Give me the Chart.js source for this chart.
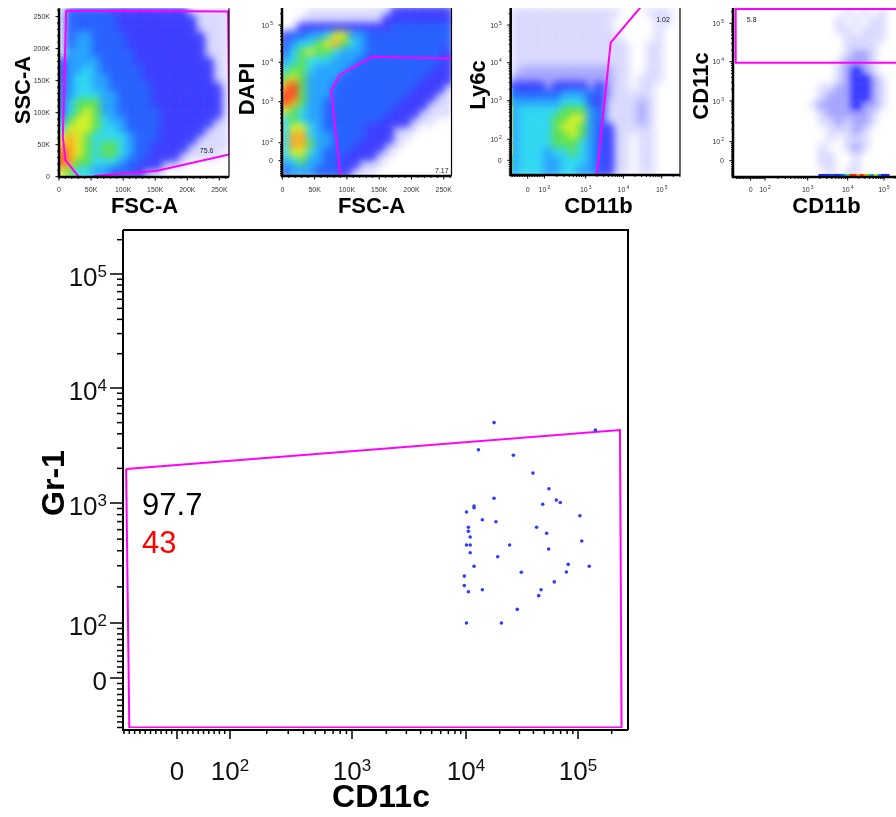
<!DOCTYPE html>
<html>
<head>
<meta charset="utf-8">
<title>CD11c / Gr-1 gating</title>
<script src="https://cdn.jsdelivr.net/npm/chart.js@4.4.1/dist/chart.umd.min.js"></script>
<style>
  html, body { margin: 0; padding: 0; background: #fff; width: 896px; height: 817px; overflow: hidden; }
  canvas { position: absolute; left: 0; top: 0; }
</style>
</head>
<body>
<canvas id="fsc-ssc" width="920" height="817"></canvas>
<canvas id="fsc-dapi" width="920" height="817"></canvas>
<canvas id="cd11b-ly6c" width="920" height="817"></canvas>
<canvas id="cd11b-cd11c" width="920" height="817"></canvas>
<canvas id="cd11c-gr1" width="920" height="817"></canvas>
<script>
// Final plot: CD11c vs Gr-1 events
const cd11cValues = [17800, 143000, 12900, 26500, 39600, 55000, 17800, 64000, 69500, 48400,
  11800, 11800, 10100, 104000, 14000, 18500, 10500, 10500, 42700, 52500,
  10900, 10100, 10900, 24500, 54700, 108000, 10900, 19200, 81800, 126000,
  11800, 78700, 31200, 9660, 9660, 61400, 10500, 14000, 46800, 44600,
  28700, 10100, 20700];
const gr1Values = [5000, 4300, 2900, 2600, 1820, 1330, 1100, 1060, 1010, 975,
  944, 914, 841, 784, 726, 698, 628, 581, 628, 560,
  521, 447, 447, 447, 414, 482, 385, 357, 308, 297,
  297, 266, 265, 246, 205, 220, 182, 189, 189, 169,
  130, 100, 100];
const gr1Gate = [[-96, 1980], [237000, 4310], [245000, -90], [-90, -90], [-96, 1980]];
const gr1GateStats = ['97.7', '43'];

// Parent gates (x, y)
const fscSscGate = [[11200, 259000], [263500, 258000], [266000, 35000], [153000, 9400], [55800, 1000],
  [44000, -12000], [30800, 0], [10000, 26000], [6000, 62000], [11200, 259000]];
const fscDapiGate = [[90100, -90], [75700, 1900], [89000, 4800], [139000, 14100], [270000, 12500]];
const ly6cGate = [[1950, -80], [4600, 34000], [40500, 460000]];
const cd11cGate = [[600000, 236000], [-105, 236000], [-105, 9400], [600000, 9400]];
const gateStats = ['75.6', '7.17', '1.02', '5.8'];

// Binned event density, rows top to bottom, 0 = empty .. 9 = densest
const fscSscDensity = [
  '13333322222222211111',
  '13333332222222221111',
  '13333332222222221111',
  '13443333222222222111',
  '13443333222222222111',
  '14443333322222222111',
  '24444333322222222211',
  '24454333332222222211',
  '24554433332222222211',
  '34554433333222222221',
  '34555443333222222221',
  '35666443333222222221',
  '35676443333322222221',
  '46776544333322222211',
  '57776554333322222111',
  '78765555433322221111',
  '88765665433222211111',
  '98765665433222111110',
  '98665554332211100000',
  '76554433321100000000'
];
const fscDapiDensity = [
  '00011111111112222222',
  '00111111111122222222',
  '01222222222223333333',
  '23344577443333333333',
  '34556786543333333333',
  '35676654443333333332',
  '45655544433333333332',
  '56654444333333333322',
  '67644443333333333222',
  '89644433333333332221',
  '99644433333333322211',
  '98644333333333222111',
  '76544333333332221111',
  '56544333333322211100',
  '57754333332221110000',
  '58854433332221100000',
  '58864433322211000000',
  '57754333222110000000',
  '45644332211100000000',
  '34443332111000000000'
];
const cd11bLy6cDensity = [
  '11111111111110001110',
  '11111111111100000110',
  '11111111111100000100',
  '11111111111110000100',
  '11111111111111001100',
  '11111111111111001100',
  '11111111111111001100',
  '1bbbbbbbbbbb11001100',
  'bbbbbbbbbbbb11011100',
  '2222b2222b2b11011000',
  '33333344433b11111000',
  '444444555321111b1000',
  '455555666431111b1000',
  '455556677431111b1000',
  '45555677643211111000',
  '45555667643211011000',
  '45555666543211011000',
  '45554556543211011000',
  '45554455543211011000',
  '45554455443211011000'
];
const cd11bCd11cDensity = [
  '00000000000001010100',
  '00000000000010101100',
  '00000000000011011100',
  '00000000000001111100',
  '00000000000001111000',
  '00000000000001bb1000',
  '0000000000001bbb1000',
  '0000000000001b2b1000',
  '0000000000001b22b100',
  '000000000011bb22b100',
  '00000000001bbb22b100',
  '0000000001bbbb2bb100',
  '00000000001bbbbb1000',
  '000000000011b1bb1000',
  '00000000000111b10000',
  '00000000000101110000',
  '00000000001001b10000',
  '00000000001100100000',
  '00000000001100100000',
  '00000000000101100000'
];
// Events piled on the axis minimum
const ly6cAxisPile = [[1500, '5'], [900, '6'], [500, '7'], [250, '7'], [120, '7'], [50, '7'], [0, '6'], [-40, '6'], [-70, '5']];
const cd11cAxisPile = [[2200, '2'], [3000, '2'], [4000, '3'], [5500, '2'], [7000, '3'], [9000, '4'], [11000, '6'],
  [13700, '9'], [17000, '9'], [21000, '8'], [26000, '9'], [33000, '8'], [42000, '6'], [52000, '4'],
  [63000, '7'], [80000, '4'], [100000, '2'], [118000, '2']];

const densityColors = {
  '1': 'rgba(70, 70, 255, 0.13)',
  'b': 'rgba(50, 50, 255, 0.32)',
  '2': '#2323ff',
  '3': '#0a4bff',
  '4': '#0a96ff',
  '5': '#14d2f0',
  '6': '#46dc3c',
  '7': '#d2f00a',
  '8': '#ffa000',
  '9': '#ff2800'
};
const GATE = '#ff00ff';
const FONT = '"Liberation Sans", Arial, sans-serif';
const PAGE_W = 920, PAGE_H = 817;

// Biexponential display: linear through zero up to 10^2, log above.
// pos = display units of 0, 10^2, 10^3, 10^4, 10^5
function biex(pos) {
  const slope = (pos[1] - pos[0]) / 100;
  return v => {
    if (v <= 100) return pos[0] + v * slope;
    const l = Math.log10(v);
    const k = Math.min(Math.floor(l), 4) - 1;
    return pos[k] + (l - (k + 1)) * (pos[k + 1] - pos[k]);
  };
}
const ident = v => v;

function biexTicks(map, lo, hi) {
  const t = [{u: map(0), major: true, label: '0'}];
  for (let k = 1; k <= 9; k++) t.push({u: map(k * 10)});
  for (let k = 1; k <= 10; k++) t.push({u: map(-k * 10)});
  for (let d = 2; d <= 5; d++) {
    t.push({u: map(10 ** d), major: true, exp: d});
    for (let k = 2; k <= 9; k++) t.push({u: map(k * 10 ** d)});
  }
  return t.filter(v => v.u >= lo - 0.01 && v.u <= hi + 0.01);
}
function linTicks(lo, hi) {
  const t = [];
  for (let v = 0; v <= hi; v += 10000) {
    t.push(v % 50000 === 0 ? {u: v, major: true, label: v ? v / 1000 + 'K' : '0'} : {u: v});
  }
  return t.filter(v => v.u >= lo);
}

function labelWidth(ctx, t, f) {
  ctx.font = f.base;
  let w = ctx.measureText(t.exp ? '10' : t.label).width;
  if (t.exp) { ctx.font = f.sup; w += f.gap + ctx.measureText(String(t.exp)).width; }
  return w;
}
function drawLabel(ctx, t, left, baseline, f) {
  ctx.textAlign = 'left';
  ctx.textBaseline = 'alphabetic';
  ctx.font = f.base;
  const txt = t.exp ? '10' : t.label;
  ctx.fillText(txt, left, baseline);
  if (t.exp) {
    const w = ctx.measureText(txt).width;
    ctx.font = f.sup;
    ctx.fillText(String(t.exp), left + w + f.gap, baseline - f.rise);
  }
}

const axisStyle = new Map();

// Soften the binned density so it reads as a continuous pseudocolour map
const densityBlur = {
  id: 'densityBlur',
  beforeDatasetDraw(chart, args) {
    const b = chart.data.datasets[args.index].blur;
    if (b) { chart.ctx.save(); chart.ctx.filter = `blur(${b}px)`; }
  },
  afterDatasetDraw(chart, args) {
    if (chart.data.datasets[args.index].blur) chart.ctx.restore();
  }
};

// Axis lines, tick marks, labels, titles and gate statistics
const flowAxes = {
  id: 'flowAxes',
  afterDraw(chart) {
    const s = axisStyle.get(chart.canvas.id);
    if (!s) return;
    const {ctx, chartArea: a} = chart;
    const sx = chart.scales.x, sy = chart.scales.y;
    const axisY = a.bottom + s.xAxisDrop;
    ctx.save();
    ctx.strokeStyle = '#000';
    ctx.fillStyle = s.labelColor;
    ctx.lineWidth = s.tickWidth;
    s.xTicks.forEach(t => {
      const px = sx.getPixelForValue(t.u);
      ctx.beginPath();
      ctx.moveTo(px, axisY);
      ctx.lineTo(px, axisY + (t.major ? s.majorX : s.minorX));
      ctx.stroke();
      if (t.major) {
        const w = labelWidth(ctx, t, s.font);
        drawLabel(ctx, t, px - w / 2, a.bottom + s.xLabelBase, s.font);
      }
    });
    s.yTicks.forEach(t => {
      const py = sy.getPixelForValue(t.u);
      ctx.beginPath();
      ctx.moveTo(a.left, py);
      ctx.lineTo(a.left - (t.major ? s.majorY : s.minorY), py);
      ctx.stroke();
      if (t.major) {
        const w = labelWidth(ctx, t, s.font);
        drawLabel(ctx, t, a.left - s.yLabelGap - w, py + s.yLabelBase, s.font);
      }
    });

    ctx.lineWidth = s.axisWidth;
    ctx.beginPath();
    ctx.moveTo(a.left, a.top);
    ctx.lineTo(a.left, axisY);
    ctx.lineTo(a.right, axisY);
    ctx.stroke();
    if (s.frameWidth) {
      ctx.lineWidth = s.frameWidth;
      ctx.beginPath();
      if (s.frameTop) { ctx.moveTo(a.left, a.top); ctx.lineTo(a.right, a.top); }
      else ctx.moveTo(a.right, a.top);
      ctx.lineTo(a.right, axisY);
      ctx.stroke();
    }

    ctx.fillStyle = '#000';
    ctx.font = `bold ${s.titleSize}px ${FONT}`;
    ctx.textAlign = 'center';
    ctx.textBaseline = 'middle';
    ctx.fillText(s.xTitle, s.xTitleAt[0], s.xTitleAt[1]);
    ctx.save();
    ctx.translate(s.yTitleAt[0], s.yTitleAt[1]);
    ctx.rotate(-Math.PI / 2);
    ctx.fillText(s.yTitle, 0, 0);
    ctx.restore();

    s.stats.forEach(st => {
      ctx.font = st.font;
      ctx.fillStyle = st.color;
      ctx.textAlign = st.align;
      ctx.textBaseline = 'middle';
      ctx.fillText(st.text, sx.getPixelForValue(st.x) + (st.dx || 0), sy.getPixelForValue(st.y) + (st.dy || 0));
    });
    ctx.restore();
  }
};

function densityCells(rows, x, y) {
  const nr = rows.length, nc = rows[0].length;
  const dx = (x.max - x.min) / nc, dy = (y.max - y.min) / nr;
  const cells = [];
  rows.forEach((row, r) => {
    for (let c = 0; c < nc; c++) {
      if (row[c] === '0') continue;
      cells.push({x: x.min + (c + 0.5) * dx, y: y.max - (r + 0.5) * dy, level: row[c]});
    }
  });
  return cells;
}

function flowChart(id, area, x, y, datasets) {
  return new Chart(document.getElementById(id), {
    type: 'scatter',
    data: {datasets},
    options: {
      responsive: false,
      animation: false,
      events: [],
      layout: {padding: {left: area[0], top: area[1], right: PAGE_W - area[2], bottom: PAGE_H - area[3]}},
      scales: {
        x: {type: 'linear', display: false, min: x.min, max: x.max},
        y: {type: 'linear', display: false, min: y.min, max: y.max}
      },
      plugins: {legend: {display: false}, tooltip: {enabled: false}}
    },
    plugins: [densityBlur, flowAxes]
  });
}

const smallFont = {base: `7px ${FONT}`, sup: `5px ${FONT}`, rise: 3, gap: 1};

// Top row: parent populations
const panels = [
  {
    id: 'fsc-ssc', area: [59, 8.3, 229, 177],
    x: {map: ident, min: 0, max: 265000, lin: true}, y: {map: ident, min: -500, max: 263000, lin: true},
    density: fscSscDensity, gate: fscSscGate, stat: {text: gateStats[0], x: 230000, y: 40000},
    xTitle: 'FSC-A', yTitle: 'SSC-A', xTitleAt: [144.5, 207], yTitleAt: [23.5, 90], xLabelBase: 14.5, blur: 4
  },
  {
    id: 'fsc-dapi', area: [282, 8, 451.5, 176],
    x: {map: ident, min: -500, max: 262000, lin: true}, y: {map: biex([0, 18, 59, 98.4, 135.7]), min: -15.3, max: 152.7},
    density: fscDapiDensity, gate: fscDapiGate, stat: {text: gateStats[1], x: 247000, y: -57},
    xTitle: 'FSC-A', yTitle: 'DAPI', xTitleAt: [371.5, 207], yTitleAt: [248, 89], xLabelBase: 15.5, blur: 4
  },
  {
    id: 'cd11b-ly6c', area: [510.7, 8, 680, 175],
    x: {map: biex([0, 16.7, 58, 95.7, 134]), min: -17, max: 152.3}, y: {map: biex([0, 21, 59.6, 97.6, 135.3]), min: -14.7, max: 152.3},
    density: cd11bLy6cDensity, gate: ly6cGate, stat: {text: gateStats[2], x: 108000, y: 135000},
    pile: {data: ly6cAxisPile, vertical: true, at: -96},
    xTitle: 'CD11b', yTitle: 'Ly6c', xTitleAt: [598.5, 207], yTitleAt: [478.5, 85], xLabelBase: 16.5, blur: 4
  },
  {
    id: 'cd11b-cd11c', area: [733, 8, 903, 177],
    x: {map: biex([0, 14.3, 57, 97, 133.3]), min: -17.7, max: 152.3}, y: {map: biex([0, 19, 59.7, 99, 137.4]), min: -16.3, max: 152.7},
    density: cd11bCd11cDensity, gate: cd11cGate, stat: {text: gateStats[3], x: 7, y: 122000},
    pile: {data: cd11cAxisPile, vertical: false, at: -75},
    xTitle: 'CD11b', yTitle: 'CD11c', xTitleAt: [826.5, 207], yTitleAt: [702, 86], xLabelBase: 14.5, blur: 3.5, noFrame: true
  }
];

panels.forEach(p => {
  const cells = densityCells(p.density, p.x, p.y);
  const cellPx = Math.max((p.area[2] - p.area[0]) / p.density[0].length, (p.area[3] - p.area[1]) / p.density.length);
  const datasets = [
    {
      type: 'line',
      data: p.gate.map(g => ({x: p.x.map(g[0]), y: p.y.map(g[1])})),
      borderColor: GATE, borderWidth: 2, pointRadius: 0, fill: false, tension: 0, order: 0
    },
    {
      data: cells,
      pointStyle: 'rect',
      pointRadius: cellPx * 0.9,
      pointHoverRadius: cellPx * 0.9,
      pointBorderWidth: 0,
      pointBackgroundColor: cells.map(c => densityColors[c.level]),
      blur: p.blur,
      order: 2
    }
  ];
  if (p.pile) {
    const pts = p.pile.data.map(d => p.pile.vertical
      ? {x: p.x.map(p.pile.at), y: p.y.map(d[0])}
      : {x: p.x.map(d[0]), y: p.y.map(p.pile.at)});
    datasets.push({
      data: pts,
      pointStyle: 'line',
      pointRotation: p.pile.vertical ? 90 : 0,
      pointRadius: p.pile.vertical ? 6 : 3,
      pointBorderWidth: 2,
      pointBorderColor: p.pile.data.map(d => densityColors[d[1]]),
      order: 1
    });
  }
  axisStyle.set(p.id, {
    xTicks: p.x.lin ? linTicks(p.x.min, p.x.max) : biexTicks(p.x.map, p.x.min, p.x.max),
    yTicks: p.y.lin ? linTicks(p.y.min, p.y.max) : biexTicks(p.y.map, p.y.min, p.y.max),
    font: smallFont, labelColor: '#333',
    majorX: 3.5, minorX: 2, majorY: 3.5, minorY: 2, tickWidth: 1, axisWidth: 2.5, xAxisDrop: 0,
    xLabelBase: p.xLabelBase, yLabelBase: 2.5, yLabelGap: 9,
    frameWidth: p.noFrame ? 0 : 1.2, frameTop: false,
    titleSize: 22, xTitle: p.xTitle, yTitle: p.yTitle, xTitleAt: p.xTitleAt, yTitleAt: p.yTitleAt,
    stats: [{text: p.stat.text, x: p.x.map(p.stat.x), y: p.y.map(p.stat.y), font: `7px ${FONT}`, color: '#222', align: 'center'}]
  });
  flowChart(p.id, p.area, {min: p.x.min, max: p.x.max}, {min: p.y.min, max: p.y.max}, datasets);
});

// Main plot: CD11c vs Gr-1
const mainX = biex([0, 53, 175, 289, 401]);
const mainY = biex([0, 55, 175, 290, 404]);
const mainXRange = {min: -54, max: 451};
const mainYRange = {min: -50, max: 448};

axisStyle.set('cd11c-gr1', {
  xTicks: biexTicks(mainX, mainXRange.min, mainXRange.max),
  yTicks: biexTicks(mainY, mainYRange.min, mainYRange.max),
  font: {base: `26px ${FONT}`, sup: `17px ${FONT}`, rise: 9, gap: 0}, labelColor: '#111',
  majorX: 9, minorX: 4, majorY: 13, minorY: 6, tickWidth: 1.5, axisWidth: 2, xAxisDrop: 2,
  xLabelBase: 52, yLabelBase: 12, yLabelGap: 16,
  frameWidth: 2, frameTop: true,
  titleSize: 32, xTitle: 'CD11c', yTitle: 'Gr-1', xTitleAt: [381, 798], yTitleAt: [55, 483],
  stats: [
    {text: gr1GateStats[0], x: mainX(gr1Gate[0][0]), y: mainY(1000), dx: 16, dy: 3, font: `31px ${FONT}`, color: '#000', align: 'left'},
    {text: gr1GateStats[1], x: mainX(gr1Gate[0][0]), y: mainY(1000), dx: 16, dy: 41, font: `31px ${FONT}`, color: '#ff0000', align: 'left'}
  ]
});

flowChart('cd11c-gr1', [123, 230, 628, 728], mainXRange, mainYRange, [
  {
    data: cd11cValues.map((v, i) => ({x: mainX(v), y: mainY(gr1Values[i])})),
    pointStyle: 'circle',
    pointRadius: 1.8,
    pointHoverRadius: 1.8,
    pointBorderWidth: 0,
    pointBackgroundColor: '#2f3dff',
    order: 0
  },
  {
    type: 'line',
    data: gr1Gate.map(g => ({x: mainX(g[0]), y: mainY(g[1])})),
    borderColor: GATE, borderWidth: 2, pointRadius: 0, fill: false, tension: 0, order: 1
  }
]);
</script>
</body>
</html>
